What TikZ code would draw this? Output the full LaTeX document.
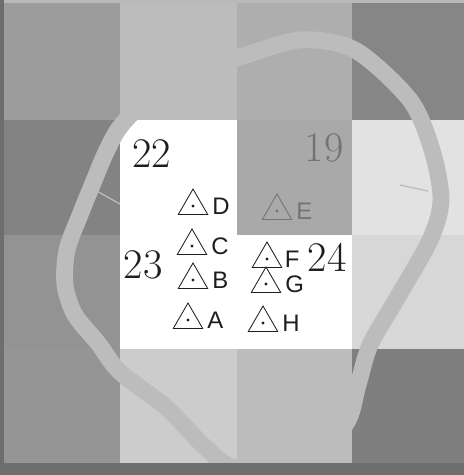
\documentclass[tikz,border=0pt]{standalone}
\usepackage{fontspec}
\newfontfamily\lettersans{Liberation Sans}
\usetikzlibrary{shapes.geometric, positioning}
\definecolor{myink}{RGB}{30,30,30}
\definecolor{mygrayink}{RGB}{115,115,115}
\definecolor{myband}{RGB}{188,188,188}
\definecolor{myedge}{RGB}{110,110,110}
\definecolor{mytop}{RGB}{185,185,185}
\definecolor{shadeA}{RGB}{156,156,156}
\definecolor{shadeB}{RGB}{188,188,188}
\definecolor{shadeC}{RGB}{174,174,174}
\definecolor{shadeD}{RGB}{134,134,134}
\definecolor{shadeE}{RGB}{131,131,131}
\definecolor{shadeF}{RGB}{169,169,169}
\definecolor{shadeG}{RGB}{226,226,226}
\definecolor{shadeH}{RGB}{147,147,147}
\definecolor{shadeI}{RGB}{215,215,215}
\definecolor{shadeJ}{RGB}{149,149,149}
\definecolor{shadeK}{RGB}{204,204,204}
\definecolor{shadeL}{RGB}{188,188,188}
\definecolor{shadeM}{RGB}{127,127,127}
\tikzset{
  tri/.style={regular polygon, regular polygon sides=3, draw=#1,
    line width=0.6pt, minimum size=0.85cm, inner sep=0pt,
    label={[tridot=#1]center:}},
  tri/.default=myink,
  tridot/.style={circle, fill=#1, inner sep=0pt, minimum size=2.2pt},
  letter/.style={inner sep=0pt, text=myink,
    font=\lettersans\fontsize{17}{17}\selectfont},
  cellno/.style={inner sep=0pt, text=myink,
    font=\fontsize{30}{30}\selectfont},
  band/.style={draw=myband, line width=0.42cm, line join=round},
  scratch/.style={draw=myband, line width=0.9pt}
}

\begin{document}
\begin{tikzpicture}[x=0.025cm, y=-0.025cm]
  \useasboundingbox (0,0) rectangle (464,475);
  \fill[mytop] (0,0) rectangle (464,475);

  % Row 1
  \fill[shadeA] (4,3) rectangle (120,120);
  \fill[shadeB] (120,3) rectangle (237,120);
  \fill[shadeC] (237,3) rectangle (352,120);
  \fill[shadeD] (352,3) rectangle (464,120);
  % Row 2
  \fill[shadeE] (4,120) rectangle (120,235);
  \fill[white] (120,120) rectangle (237,235);
  \fill[shadeF] (237,120) rectangle (352,235);
  \fill[shadeG] (352,120) rectangle (464,235);
  % Row 3
  \fill[shadeH] (4,235) rectangle (120,349);
  \fill[white] (120,235) rectangle (352,349);
  \fill[shadeI] (352,235) rectangle (464,349);
  % Row 4
  \fill[shadeJ] (4,349) rectangle (120,463);
  \fill[shadeK] (120,349) rectangle (237,463);
  \fill[shadeL] (237,349) rectangle (352,463);
  \fill[shadeM] (352,349) rectangle (464,463);

  % Loop
  \draw[band] plot[smooth cycle] coordinates {
    (237,58) (300,40) (355,50) (410,100) (432,150) (441,200)
    (430,240) (396,300) (370,345) (358,385) (345,425) (300,455)
    (237,468) (205,447) (167,408) (120,372) (98,343) (75,315)
    (65,285) (67,250) (80,215) (93,183) (107,150) (124,122)
    (170,80)};
  \draw[scratch] (95,190) -- (120,204);
  \draw[scratch] (400,185) -- (428,191);

  % Border strips
  \fill[myedge] (0,0) rectangle (4,475);
  \fill[myedge] (0,463) rectangle (464,475);

  % Cell numbers
  \node[cellno] (n22) at (152,154) {22};
  \node[cellno, text=mygrayink] (n19) at (324,148) {19};
  \node[cellno] (n23) at (143,265) {23};
  \node[cellno] (n24) at (327,257) {24};

  % Left column of markers
  \node[tri] (tD) at (193,206) {};
  \node[letter, right=0.22cm of tD] (lD) {D};
  \node[tri] (tC) at (192,246) {};
  \node[letter, right=0.22cm of tC] (lC) {C};
  \node[tri] (tB) at (193,280) {};
  \node[letter, right=0.22cm of tB] (lB) {B};
  \node[tri] (tA) at (188,320) {};
  \node[letter, right=0.22cm of tA] (lA) {A};

  % Right column of markers
  \node[tri=mygrayink] (tE) at (277,211) {};
  \node[letter, text=mygrayink, right=0.22cm of tE] (lE) {E};
  \node[tri] (tF) at (267,259) {};
  \node[letter, right=0.18cm of tF] (lF) {F};
  \node[tri] (tG) at (266,284) {};
  \node[letter, right=0.22cm of tG] (lG) {G};
  \node[tri] (tH) at (263,323) {};
  \node[letter, right=0.22cm of tH] (lH) {H};
\end{tikzpicture}
\end{document}
